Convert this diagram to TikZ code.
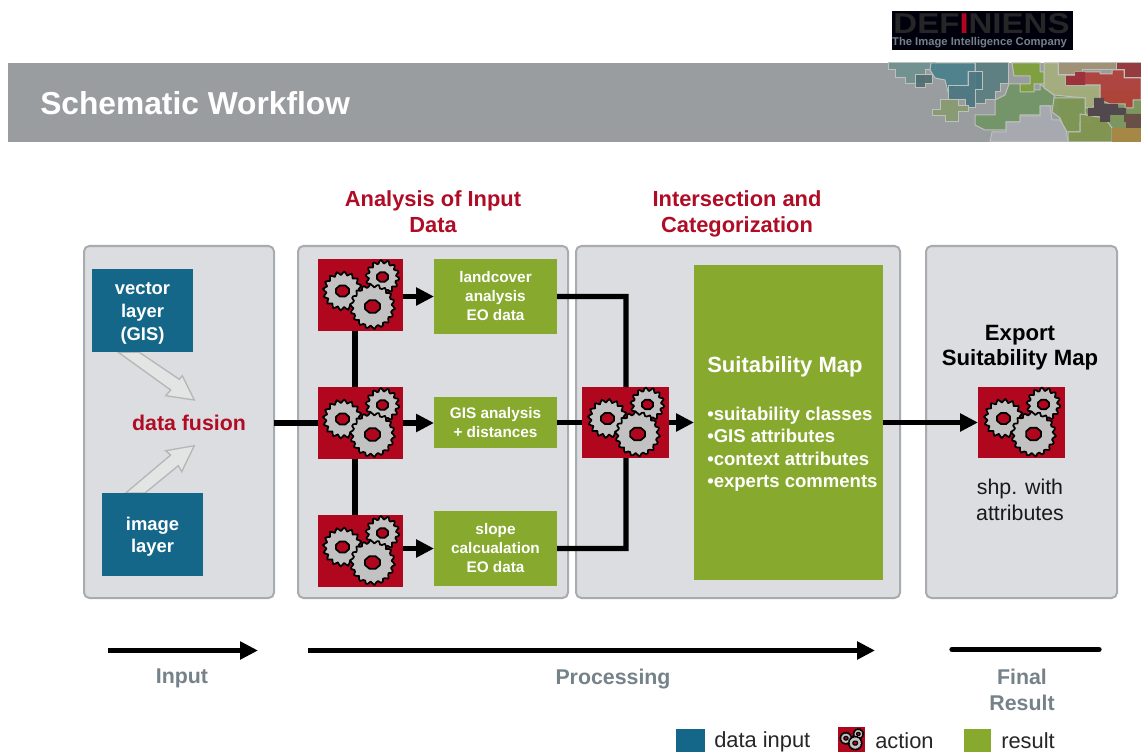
\documentclass[tikz,border=0pt]{standalone}
\usepackage{fontspec}
\setmainfont{Liberation Sans}
\usetikzlibrary{arrows.meta}
\definecolor{actred}{HTML}{B0071E}
\definecolor{headred}{HTML}{B00C25}
\definecolor{teal1}{HTML}{156789}
\definecolor{green1}{HTML}{87A92E}
\definecolor{panelfill}{HTML}{DCDDE0}
\definecolor{panelline}{HTML}{A8ACAE}
\definecolor{greytext}{HTML}{76828A}
\definecolor{banner}{HTML}{9A9DA0}
\definecolor{gearfill}{HTML}{C2C2C2}
\definecolor{blockfill}{HTML}{E3E5E4}
\definecolor{blockline}{HTML}{B5B7B7}
\definecolor{mosline}{HTML}{BDC1BA}
\newcommand{\fs}[1]{\fontsize{#1}{#1}\selectfont}
\tikzset{
  x=0.75pt,y=-0.75pt,
  px/.style 2 args={minimum width=#1*0.75pt,minimum height=#2*0.75pt,inner sep=0pt,outer sep=0pt},
  panel/.style={draw=panelline,line width=1.5pt,fill=panelfill,rounded corners=4pt},
  actbox/.style={fill=actred,px={85}{72}},
  inbox/.style={fill=teal1,px={101}{83}},
  inlab/.style={text=white,font=\bfseries\fs{13.8},align=center,inner sep=0pt},
  resbox/.style={fill=green1,px={123}{75}},
  reslab/.style={text=white,font=\bfseries\fs{11.5},align=center,inner sep=0pt},
  conn/.style={line width=4pt,draw=black},
  arr/.style={conn,-{Triangle[length=13.5pt,width=13pt]}},
  blockarr/.style={fill=blockfill,draw=blockline,line width=1pt,line join=miter},
  head/.style={text=headred,font=\bfseries\fs{16.4},align=center},
  phase/.style={text=greytext,font=\bfseries\fs{16},align=center},
  legtext/.style={anchor=west,inner sep=0pt,font=\fs{16.4},text=black!85},
  mos/.style={draw=mosline,line width=0.75pt,line join=miter,fill opacity=0.9},
  pics/gears/.style 2 args={code={
    \foreach \cx/\cy/\r/\n/\h in {22/-18/16.5/14/6,-18/-4/19/16/7,12/11.5/22/18/8}{
      \draw[draw=black,line width=#1pt,fill=gearfill,line join=round]
        plot[samples=65,domain=0:360] ({#2*(\cx+(\r-1.2+1.8*sin(\n*\x))*cos(\x))},{#2*(\cy+(\r-1.2+1.8*sin(\n*\x))*sin(\x))}) -- cycle;
      \draw[draw=black,line width=#1pt,fill=actred,line join=round]
        plot[samples=9,domain=22.5:382.5] ({#2*(\cx+\h*cos(\x))},{#2*(\cy+0.85*\h*sin(\x))}) -- cycle;
    }
  }},
}
\begin{document}
\begin{tikzpicture}
\useasboundingbox (0,0) rectangle (1141,752);
\fill[white] (0,0) rectangle (1141,752);

% logo
\node[fill=black!95!blue,px={181}{39},anchor=north west] (logo) at (892,11) {};
\node (logoname) at (981.5,23.5) {\resizebox{132pt}{15pt}{\bfseries\textcolor{black!85}{DEF}\textcolor{actred}{I}\textcolor{black!85}{NIENS}}};
\node[text=greytext] (logotag) at (979.5,43) {\resizebox{131pt}{!}{\bfseries The Image Intelligence Company}};

% banner
\fill[banner] (8,63) rectangle (1141,142);
\begin{scope}
\clip (8,63) rectangle (1141,142);
\fill[fill={rgb,255:red,125;green,150;blue,95}] (1054,90) -- (1141,90) -- (1141,142) -- (1068,142) -- cycle;
% teal blocks
\filldraw[mos,fill={rgb,255:red,110;green,145;blue,145}] (888,63) -- (935,63) -- (935,70) -- (925,70) -- (925,84) -- (905,84) -- (905,78) -- (895,78) -- (895,70) -- (888,70) -- cycle;
\filldraw[mos,fill={rgb,255:red,72;green,128;blue,140}] (931,63) -- (975,63) -- (975,72) -- (968,72) -- (968,86) -- (958,86) -- (948,92) -- (945,80) -- (935,78) -- (930,70) -- cycle;
\filldraw[mos,fill={rgb,255:red,88;green,125;blue,128}] (975,63) -- (1008,63) -- (1008,84) -- (1000,84) -- (1000,92) -- (995,92) -- (995,100) -- (985,100) -- (985,104) -- (975,104) -- (975,72) -- cycle;
\filldraw[mos,fill={rgb,255:red,74;green,118;blue,130}] (948,86) -- (968,86) -- (968,72) -- (982,72) -- (982,90) -- (975,90) -- (975,108) -- (965,108) -- (965,100) -- (948,100) -- cycle;
\filldraw[mos,fill={rgb,255:red,80;green,110;blue,112}] (915,75) -- (932,75) -- (932,84) -- (925,84) -- (925,88) -- (915,88) -- cycle;
% small green
\filldraw[mos,fill={rgb,255:red,135;green,155;blue,110}] (932,110) -- (940,110) -- (940,100) -- (958,100) -- (958,106) -- (968,106) -- (968,112) -- (958,112) -- (958,122) -- (945,122) -- (945,116) -- (932,116) -- cycle;
% big green
\filldraw[mos,fill={rgb,255:red,112;green,148;blue,100}] (1009,84) -- (1020,84) -- (1030,90) -- (1040,90) -- (1040,84) -- (1054,95) -- (1054,106) -- (1040,106) -- (1040,115) -- (1020,115) -- (1020,122) -- (1006,122) -- (1006,130) -- (985,130) -- (975,125) -- (975,115) -- (995,115) -- (995,100) -- (1005,95) -- cycle;
% olive
\filldraw[mos,fill={rgb,255:red,125;green,160;blue,55}] (1012,63) -- (1040,63) -- (1040,72) -- (1044,72) -- (1044,84) -- (1034,84) -- (1034,92) -- (1020,92) -- (1020,84) -- (1030,84) -- (1030,76) -- (1014,76) -- cycle;
% light green and tan
\filldraw[mos,fill={rgb,255:red,165;green,175;blue,125}] (1044,63) -- (1058,63) -- (1058,75) -- (1066,75) -- (1066,85) -- (1100,85) -- (1100,100) -- (1092,108) -- (1085,108) -- (1085,98) -- (1054,95) -- (1044,88) -- cycle;
\filldraw[mos,fill={rgb,255:red,160;green,145;blue,115}] (1058,63) -- (1116,63) -- (1116,70) -- (1082,70) -- (1082,75) -- (1058,75) -- cycle;
% lower green
\filldraw[mos,fill={rgb,255:red,125;green,150;blue,85}] (1054,98) -- (1085,98) -- (1085,112) -- (1090,122) -- (1080,122) -- (1080,132) -- (1066,132) -- (1060,118) -- (1052,112) -- cycle;
\filldraw[mos,fill={rgb,255:red,130;green,148;blue,80}] (1080,114) -- (1105,118) -- (1112,128) -- (1112,142) -- (1068,142) -- (1068,132) -- (1080,132) -- cycle;
\fill[fill={rgb,255:red,165;green,135;blue,70}] (1112,128) -- (1141,128) -- (1141,142) -- (1112,142) -- cycle;
% grey
\filldraw[mos,fill={rgb,255:red,168;green,172;blue,178}] (1006,122) -- (1020,122) -- (1020,116) -- (1040,116) -- (1040,106) -- (1050,106) -- (1052,120) -- (1060,120) -- (1066,130) -- (1068,142) -- (990,142) -- (992,132) -- (1006,132) -- cycle;
% reds
\filldraw[mos,fill={rgb,255:red,178;green,60;blue,55}] (1066,85) -- (1066,76) -- (1075,76) -- (1075,72) -- (1100,72) -- (1100,74) -- (1112,74) -- (1112,70) -- (1124,70) -- (1124,78) -- (1141,78) -- (1141,100) -- (1133,100) -- (1133,108) -- (1125,108) -- (1125,104) -- (1110,104) -- (1100,100) -- (1100,85) -- cycle;
\fill[fill={rgb,255:red,155;green,50;blue,60}] (1066,85) -- (1066,76) -- (1075,76) -- (1075,72) -- (1085,72) -- (1085,85) -- cycle;
\filldraw[mos,fill={rgb,255:red,150;green,50;blue,55}] (1116,63) -- (1141,63) -- (1141,78) -- (1124,78) -- (1124,70) -- (1116,70) -- cycle;
% dark
\filldraw[draw=none,fill={rgb,255:red,82;green,72;blue,78}] (1088,108) -- (1094,108) -- (1094,98) -- (1104,98) -- (1104,104) -- (1118,104) -- (1118,108) -- (1126,108) -- (1126,115) -- (1110,115) -- (1110,122) -- (1100,122) -- (1100,116) -- (1088,116) -- cycle;
\filldraw[draw=none,fill={rgb,255:red,105;green,80;blue,70}] (1124,114) -- (1141,114) -- (1141,128) -- (1126,128) -- (1126,122) -- (1124,122) -- cycle;
\end{scope}
\node[anchor=west,inner sep=0pt,text=white,font=\bfseries\fs{23.8}] (title) at (40,103) {Schematic Workflow};

% panels
\draw[panel] (84,246) rectangle (274,598);
\draw[panel] (298,246) rectangle (568,598);
\draw[panel] (576,246) rectangle (900,598);
\draw[panel] (926,246) rectangle (1117,598);

% headings
\node[head] (h1) at (433,212) {Analysis of Input\\[3.2pt]Data};
\node[head] (h2) at (737,214) {Intersection and\\[3.2pt]Categorization};

% block arrows
\filldraw[blockarr] (118.3,352.3) -- (170.7,390) -- (165.7,395.7) -- (194.3,400) -- (182.3,375.7) -- (179.3,379.3) -- (139.3,352.3) -- cycle;
\filldraw[blockarr] (125.7,493) -- (170.7,455) -- (165.7,450.7) -- (194.3,445.7) -- (181.7,471.7) -- (178.3,465.7) -- (145,493) -- cycle;

% input nodes
\node[inbox] (vec) at (142.5,310.5) {};
\node[inlab] (vect) at (142.5,313) {vector\\[3.4pt]layer\\[3.4pt](GIS)};
\node[inbox] (img) at (152.5,534.5) {};
\node[inlab] (imgt) at (152.5,537) {image\\[3pt]layer};
\node[text=headred,font=\bfseries\fs{16}] (fusion) at (189,422.5) {data fusion};
\coordinate (fusionout) at (274,423);

% action boxes
\node[actbox] (a1) at (360.5,295) {};
\node[actbox] (a2) at (360.5,423) {};
\node[actbox] (a3) at (360.5,551) {};
\node[actbox,px={87}{71}] (a4) at (625.5,422.5) {};
\node[actbox,px={87}{71}] (a5) at (1021.5,422.5) {};

% result boxes
\node[resbox] (r1) at (495.5,296.5) {};
\node[reslab] (r1t) at (495.5,296) {landcover\\[2.8pt]analysis\\[2.8pt]EO data};
\node[resbox,px={123}{51}] (r2) at (495.5,422.5) {};
\node[reslab] (r2t) at (495.5,422.5) {GIS analysis\\[3.2pt]+ distances};
\node[resbox] (r3) at (495.5,548.5) {};
\node[reslab] (r3t) at (495.5,548) {slope\\[2.8pt]calcualation\\[2.8pt]EO data};
\node[fill=green1,px={189}{315}] (map) at (788.5,422.5) {};
\node[anchor=west,inner sep=0pt,text=white,font=\bfseries\fs{16.5}] (maptitle) at (707,367) {Suitability Map};
\node[anchor=north west,inner sep=0pt,text=white,font=\bfseries\fs{13.9},align=left] (maplist) at (707,407) {•suitability classes\\[2.8pt]•GIS attributes\\[2.8pt]•context attributes\\[3pt]•experts comments};

% connectors
\draw[conn] ([xshift=-4.1pt]a1.south) -- ([xshift=-4.1pt]a2.north);
\draw[conn] ([xshift=-4.1pt]a2.south) -- ([xshift=-4.1pt]a3.north);
\draw[conn] (fusionout) -- (a2.west);
\draw[arr] (a1.east |- r1.west) -- (r1.west);
\draw[arr] (a2.east) -- (a2.east -| r2.west);
\draw[arr] (a3.east |- r3.west) -- (r3.west);
\draw[conn] (r2.east) -- (a4.west);
\draw[conn] (r1.east) -- ++(69,0) -- ([xshift=0.4pt]a4.north);
\draw[conn] (r3.east) -- ++(69,0) -- ([xshift=0.4pt]a4.south);
\draw[arr] (a4.east) -- (map.west);
\draw[arr] (map.east) -- (a5.west);

% gears
\pic at (a1) {gears={1.3}{1}};
\pic at (a2) {gears={1.3}{1}};
\pic at (a3) {gears={1.3}{1}};
\pic at (a4) {gears={1.3}{1}};
\pic at (a5) {gears={1.3}{1}};

% export
\node[font=\bfseries\fs{16.6},align=center] (exp) at (1020,348) {Export\\[2.4pt]Suitability Map};
\node[font=\fs{16},text=black!90,align=center] (shp) at (1020,500) {shp. with\\[3pt]attributes};

% phase arrows
\coordinate (p1a) at (108,650.5); \coordinate (p1b) at (258,650.5);
\coordinate (p2a) at (308,650.5); \coordinate (p2b) at (875,650.5);
\coordinate (p3a) at (952,649.5); \coordinate (p3b) at (1099,649.5);
\draw[arr] (p1a) -- (p1b);
\draw[arr] (p2a) -- (p2b);
\draw[conn,line cap=round] (p3a) -- (p3b);
\node[phase] (pin) at (182,678) {Input};
\node[phase] (ppr) at (613,679) {Processing};
\node[phase] (pfi) at (1022,690) {Final\\[3.6pt]Result};

% legend
\node[fill=teal1,px={29}{23},anchor=north west] (l1) at (676,729) {};
\node[legtext] (l1t) at (714,742) {data input};
\node[fill=actred,px={27}{25},anchor=north west] (l2) at (838,727) {};
\pic at (l2) {gears={0.9}{0.31}};
\node[legtext] (l2t) at (875,741) {action};
\node[fill=green1,px={27}{23},anchor=north west] (l3) at (964,729) {};
\node[legtext] (l3t) at (1001,741) {result};
\end{tikzpicture}
\end{document}
